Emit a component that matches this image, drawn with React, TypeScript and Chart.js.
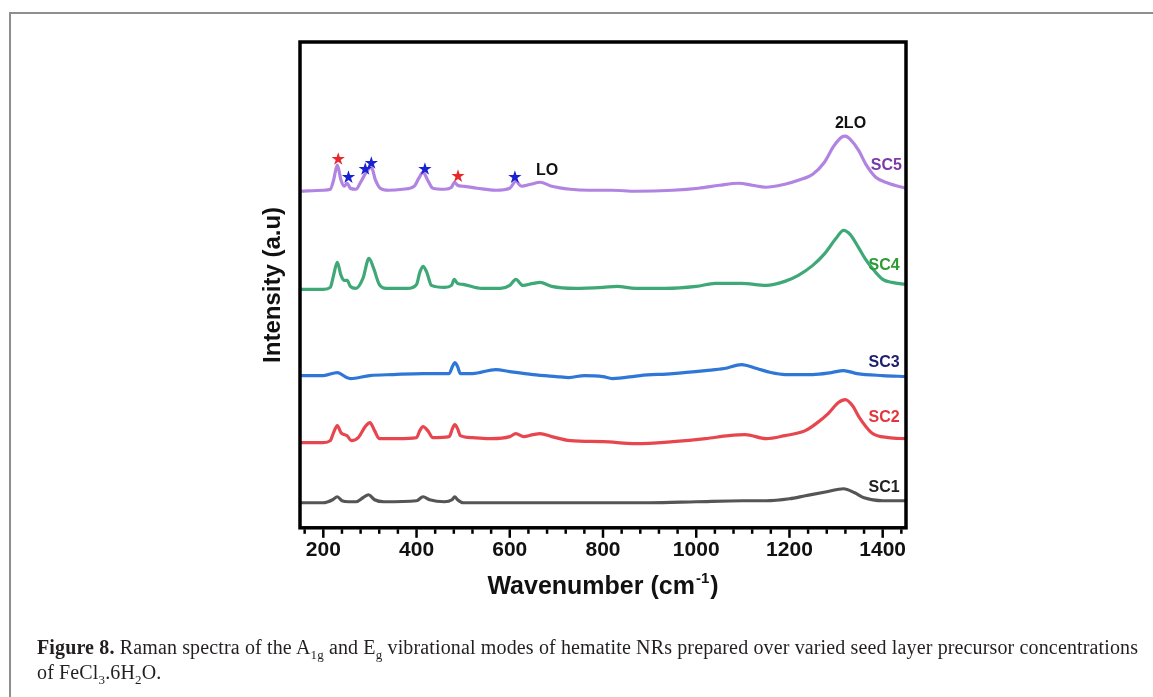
import React, { useEffect, useRef } from "react";
import { Chart, registerables } from "chart.js";

Chart.register(...registerables);

// Wavenumbers (cm^-1) and stacked intensities (a.u., offset per spectrum)
const sc5X = [150, 200, 215, 222, 230, 238, 245, 251, 258, 270, 280, 292, 303, 312, 322, 340, 370, 395, 405, 414, 424, 435, 460, 475, 481, 488, 500, 530, 570, 600, 613, 625, 645, 665, 690, 730, 770, 820, 870, 950, 1005, 1050, 1091, 1120, 1149, 1190, 1219, 1250, 1275, 1295, 1312, 1320, 1330, 1348, 1365, 1385, 1412, 1450];
const sc5Y = [336, 337, 338, 347, 362, 347, 341, 344, 339, 338, 345, 355, 360, 347, 339, 337, 338, 341, 349, 355, 347, 339, 338, 340, 345, 342, 341, 339, 337, 339, 346, 341, 343, 345, 341, 338, 337, 337, 336, 337, 339, 342, 344, 342, 340, 343, 347, 353, 365, 381, 390, 391, 388, 377, 362, 350, 344, 339];

const sc4X = [150, 200, 215, 222, 230, 238, 245, 251, 258, 270, 285, 298, 308, 320, 335, 380, 400, 407, 414, 422, 432, 460, 475, 481, 488, 500, 540, 580, 600, 613, 628, 650, 665, 690, 740, 800, 830, 870, 934, 1000, 1041, 1097, 1150, 1190, 1219, 1250, 1276, 1300, 1316, 1330, 1348, 1362, 1376, 1400, 1420, 1450];
const sc4Y = [238, 238, 240, 252, 265, 252, 247, 247, 241, 239, 249, 269, 259, 243, 239, 239, 243, 255, 261, 255, 242, 240, 242, 248, 244, 243, 239, 239, 242, 248, 242, 244, 245, 241, 239, 240, 241, 239, 239, 241, 244, 244, 242, 246, 252, 262, 274, 289, 297, 293, 280, 269, 260, 248, 245, 243];

const sc3X = [150, 200, 230, 250, 258, 300, 350, 414, 470, 477, 482, 488, 494, 520, 570, 600, 650, 700, 727, 760, 800, 820, 880, 950, 1020, 1060, 1097, 1130, 1160, 1191, 1250, 1290, 1316, 1345, 1400, 1450];
const sc3Y = [152, 152, 155, 150, 149, 152, 153, 154, 154, 161, 165, 161, 154, 154, 158, 156, 153, 151, 150, 152, 151, 149, 152, 154, 157, 159, 163, 159, 155, 153, 153, 155, 157, 154, 152, 151];

const sc2X = [150, 200, 215, 222, 230, 238, 245, 251, 260, 275, 290, 300, 310, 320, 360, 400, 407, 414, 424, 435, 470, 477, 482, 488, 494, 520, 560, 600, 613, 630, 650, 665, 690, 730, 800, 870, 950, 1020, 1070, 1105, 1150, 1190, 1234, 1260, 1283, 1305, 1320, 1335, 1350, 1376, 1412, 1450];
const sc2Y = [85, 85, 87, 95, 102, 95, 93, 92, 87, 90, 101, 105, 97, 89, 89, 90, 97, 101, 97, 90, 91, 99, 103, 99, 92, 90, 89, 91, 94, 91, 93, 94, 91, 87, 86, 84, 86, 89, 92, 93, 89, 92, 97, 105, 114, 125, 128, 122, 110, 95, 90, 89];

const sc1X = [150, 200, 220, 230, 240, 255, 270, 285, 297, 310, 330, 400, 414, 428, 460, 476, 482, 488, 500, 600, 700, 800, 900, 1000, 1100, 1150, 1200, 1234, 1280, 1316, 1340, 1360, 1400, 1450];
const sc1Y = [25, 25, 28, 31, 27, 26, 26, 30, 33, 28, 26, 27, 31, 28, 26, 28, 31, 28, 25, 25, 25, 25, 25, 26, 27, 27, 29, 32, 36, 39, 35, 30, 27, 27];

const seriesNames = ["SC5", "SC4", "SC3", "SC2", "SC1"];
const lineColors = ["#b184e2", "#3fa877", "#2f77d6", "#e8464f", "#555555"];
const nameColors = ["#7b3aa6", "#2f9b35", "#1d1f6e", "#e3363c", "#222222"];
const nameX = [1408, 1403, 1403, 1403, 1403];
const nameY = [362, 262, 165, 110, 40];

const xTickLabels = [200, 400, 600, 800, 1000, 1200, 1400];
const minorStep = 40;

const bandNames = ["2LO", "LO"];
const bandX = [1331, 680];
const bandY = [404, 357];

const starX = [232, 254, 290, 303, 418, 489, 611];
const starY = [368, 350, 358, 364, 358, 351, 350];
const starColors = ["#e8282a", "#1a22d0", "#1a22d0", "#1a22d0", "#1a22d0", "#e8282a", "#1a22d0"];

const xsList = [sc5X, sc4X, sc3X, sc2X, sc1X];
const ysList = [sc5Y, sc4Y, sc3Y, sc2Y, sc1Y];

const FONT = "'Liberation Sans', Arial, sans-serif";

function drawStar(ctx: CanvasRenderingContext2D, cx: number, cy: number, r: number, color: string) {
  const inner = r * 0.38;
  ctx.beginPath();
  for (let i = 0; i < 10; i++) {
    const rad = i % 2 === 0 ? r : inner;
    const a = -Math.PI / 2 + (i * Math.PI) / 5;
    const px = cx + rad * Math.cos(a);
    const py = cy + rad * Math.sin(a);
    if (i === 0) ctx.moveTo(px, py);
    else ctx.lineTo(px, py);
  }
  ctx.closePath();
  ctx.fillStyle = color;
  ctx.fill();
}

const decorPlugin = {
  id: "decor",
  afterDraw(chart: any) {
    const ctx: CanvasRenderingContext2D = chart.ctx;
    const { left, right, top, bottom } = chart.chartArea;
    const xs = chart.scales.x;
    const ys = chart.scales.y;
    ctx.save();
    // frame
    ctx.strokeStyle = "#000";
    ctx.lineWidth = 3.5;
    ctx.strokeRect(left, top, right - left, bottom - top);
    // ticks
    ctx.lineWidth = 2.5;
    const minV = xs.min;
    const maxV = xs.max;
    for (let v = Math.ceil(minV / minorStep) * minorStep; v <= maxV; v += minorStep) {
      const px = xs.getPixelForValue(v);
      const major = v % 200 === 0;
      ctx.beginPath();
      ctx.moveTo(px, bottom + 1.5);
      ctx.lineTo(px, bottom + (major ? 10 : 6));
      ctx.stroke();
    }
    // y title
    ctx.fillStyle = "#111";
    ctx.save();
    ctx.translate(273, (top + bottom) / 2);
    ctx.rotate(-Math.PI / 2);
    ctx.font = `bold 24px ${FONT}`;
    ctx.textAlign = "center";
    ctx.textBaseline = "middle";
    ctx.fillText("Intensity (a.u)", 0, 0);
    ctx.restore();
    // x title with superscript
    const main1 = "Wavenumber (cm";
    const sup = "-1";
    const main2 = ")";
    ctx.font = `bold 25px ${FONT}`;
    const w1 = ctx.measureText(main1).width;
    const w3 = ctx.measureText(main2).width;
    ctx.font = `bold 15px ${FONT}`;
    const w2 = ctx.measureText(sup).width;
    const total = w1 + w2 + w3 + 2;
    let sx = (left + right) / 2 - total / 2;
    const by = 594;
    ctx.textAlign = "left";
    ctx.textBaseline = "alphabetic";
    ctx.font = `bold 25px ${FONT}`;
    ctx.fillText(main1, sx, by);
    sx += w1 + 1;
    ctx.font = `bold 15px ${FONT}`;
    ctx.fillText(sup, sx, by - 11);
    sx += w2 + 1;
    ctx.font = `bold 25px ${FONT}`;
    ctx.fillText(main2, sx, by);
    // series names
    ctx.textAlign = "center";
    ctx.textBaseline = "middle";
    ctx.font = `bold 16px ${FONT}`;
    seriesNames.forEach((n, i) => {
      ctx.fillStyle = nameColors[i];
      ctx.fillText(n, xs.getPixelForValue(nameX[i]), ys.getPixelForValue(nameY[i]));
    });
    ctx.fillStyle = "#111";
    bandNames.forEach((n, i) => {
      ctx.fillText(n, xs.getPixelForValue(bandX[i]), ys.getPixelForValue(bandY[i]));
    });
    starX.forEach((sxv, i) => {
      drawStar(ctx, xs.getPixelForValue(sxv), ys.getPixelForValue(starY[i]), 7, starColors[i]);
    });
    ctx.restore();
  },
};

export default function App() {
  const ref = useRef<HTMLCanvasElement | null>(null);
  useEffect(() => {
    if (!ref.current) return;
    const chart = new Chart(ref.current, {
      type: "line",
      data: {
        datasets: seriesNames.map((n, i) => ({
          label: n,
          data: xsList[i].map((x, j) => ({ x, y: ysList[i][j] })),
          borderColor: lineColors[i],
          backgroundColor: lineColors[i],
          borderWidth: 3.2,
          pointRadius: 0,
          cubicInterpolationMode: "monotone" as const,
          fill: false,
        })),
      },
      options: {
        responsive: false,
        animation: false,
        layout: { padding: { left: 300, right: 247, top: 42, bottom: 124 } },
        plugins: { legend: { display: false }, tooltip: { enabled: false } },
        scales: {
          x: {
            type: "linear",
            min: 150,
            max: 1450,
            grid: { display: false, drawTicks: false },
            border: { display: false },
            afterBuildTicks: (axis: any) => {
              axis.ticks = xTickLabels.map((v) => ({ value: v }));
            },
            ticks: {
              autoSkip: false,
              maxRotation: 0,
              padding: 10,
              color: "#111",
              font: { family: FONT, weight: "bold", size: 21 },
              callback: (v: any) => String(v),
            },
          },
          y: { display: false, min: 0, max: 485 },
        },
      },
      plugins: [decorPlugin],
    });
    return () => chart.destroy();
  }, []);

  return (
    <div style={{ position: "absolute", left: 0, top: 0, width: 1153, height: 697, background: "#fff", overflow: "hidden" }}>
      <div style={{ position: "absolute", left: 9, top: 12, width: 1160, height: 700, borderTop: "2px solid #8e8e8e", borderLeft: "2px solid #8e8e8e" }} />
      <canvas ref={ref} width={1153} height={697} style={{ position: "absolute", left: 0, top: 0 }} />
      <div style={{ position: "absolute", left: 37, top: 635, fontFamily: "'Liberation Serif', 'Times New Roman', serif", fontSize: 20, lineHeight: "25px", letterSpacing: "0.14px", color: "#231f20", whiteSpace: "nowrap" }}>
        <b>Figure 8.</b> Raman spectra of the A<sub style={{ fontSize: 13, lineHeight: 0 }}>1g</sub> and E<sub style={{ fontSize: 13, lineHeight: 0 }}>g</sub> vibrational modes of hematite NRs prepared over varied seed layer precursor concentrations
        <br />
        of FeCl<sub style={{ fontSize: 13, lineHeight: 0 }}>3</sub>.6H<sub style={{ fontSize: 13, lineHeight: 0 }}>2</sub>O.
      </div>
    </div>
  );
}
